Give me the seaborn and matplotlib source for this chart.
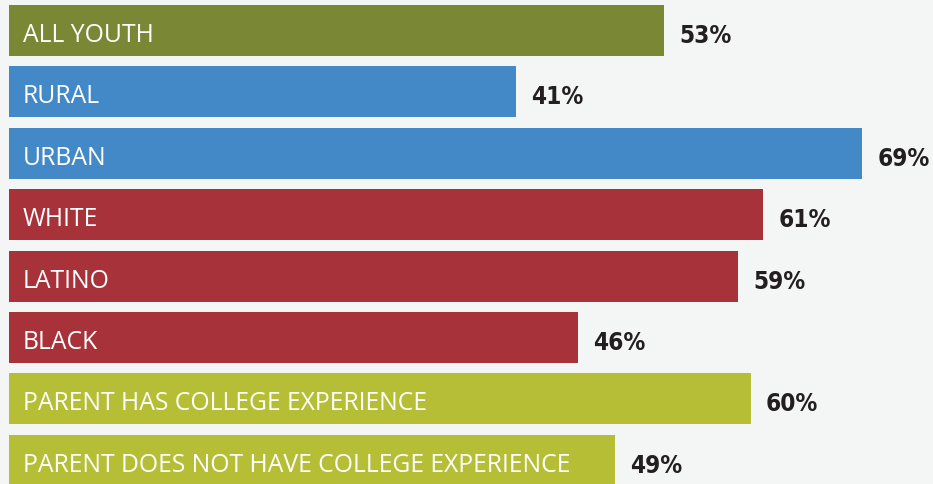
import numpy as np
import pandas as pd
import seaborn as sns
import matplotlib.pyplot as plt

# chart data
groups = ['ALL YOUTH', 'RURAL', 'URBAN', 'WHITE', 'LATINO', 'BLACK',
          'PARENT HAS COLLEGE EXPERIENCE', 'PARENT DOES NOT HAVE COLLEGE EXPERIENCE']
values = [53, 41, 69, 61, 59, 46, 60, 49]
colors = ['#7a8734', '#4389c8', '#4389c8', '#a8323a', '#a8323a', '#a8323a',
          '#b5be35', '#b5be35']

df = pd.DataFrame({'group': groups, 'value': values})

sns.set_style('white')
plt.rcParams['font.family'] = ['Open Sans', 'DejaVu Sans']

fig = plt.figure(figsize=(9.33, 4.85), dpi=100)
fig.patch.set_facecolor('#f4f6f5')
ax = fig.add_axes([0, 0, 1, 1])
ax.set_facecolor('#f4f6f5')

sns.barplot(data=df, x='value', y='group', hue='group', palette=colors,
            orient='h', width=0.83, saturation=1, legend=False, linewidth=0, ax=ax)

for i, (g, v) in enumerate(zip(groups, values)):
    ax.text(1.1, i + 0.17, g, color='white', fontsize=17.8, va='baseline', ha='left')
    ax.text(v + 1.25, i + 0.187, f'{v}%', color='#231f20', fontsize=17.5, fontweight='bold',
            fontstretch='condensed', va='baseline', ha='left',
            family=['DejaVu Sans'])

ax.set_xlim(-0.73, 74.76)
ax.set_ylim(7.386, -0.513)
ax.set_xlabel('')
ax.set_ylabel('')
ax.set_xticks([])
ax.set_yticks([])
sns.despine(ax=ax, left=True, bottom=True)

fig.savefig('out.png', dpi=100, facecolor=fig.get_facecolor())
